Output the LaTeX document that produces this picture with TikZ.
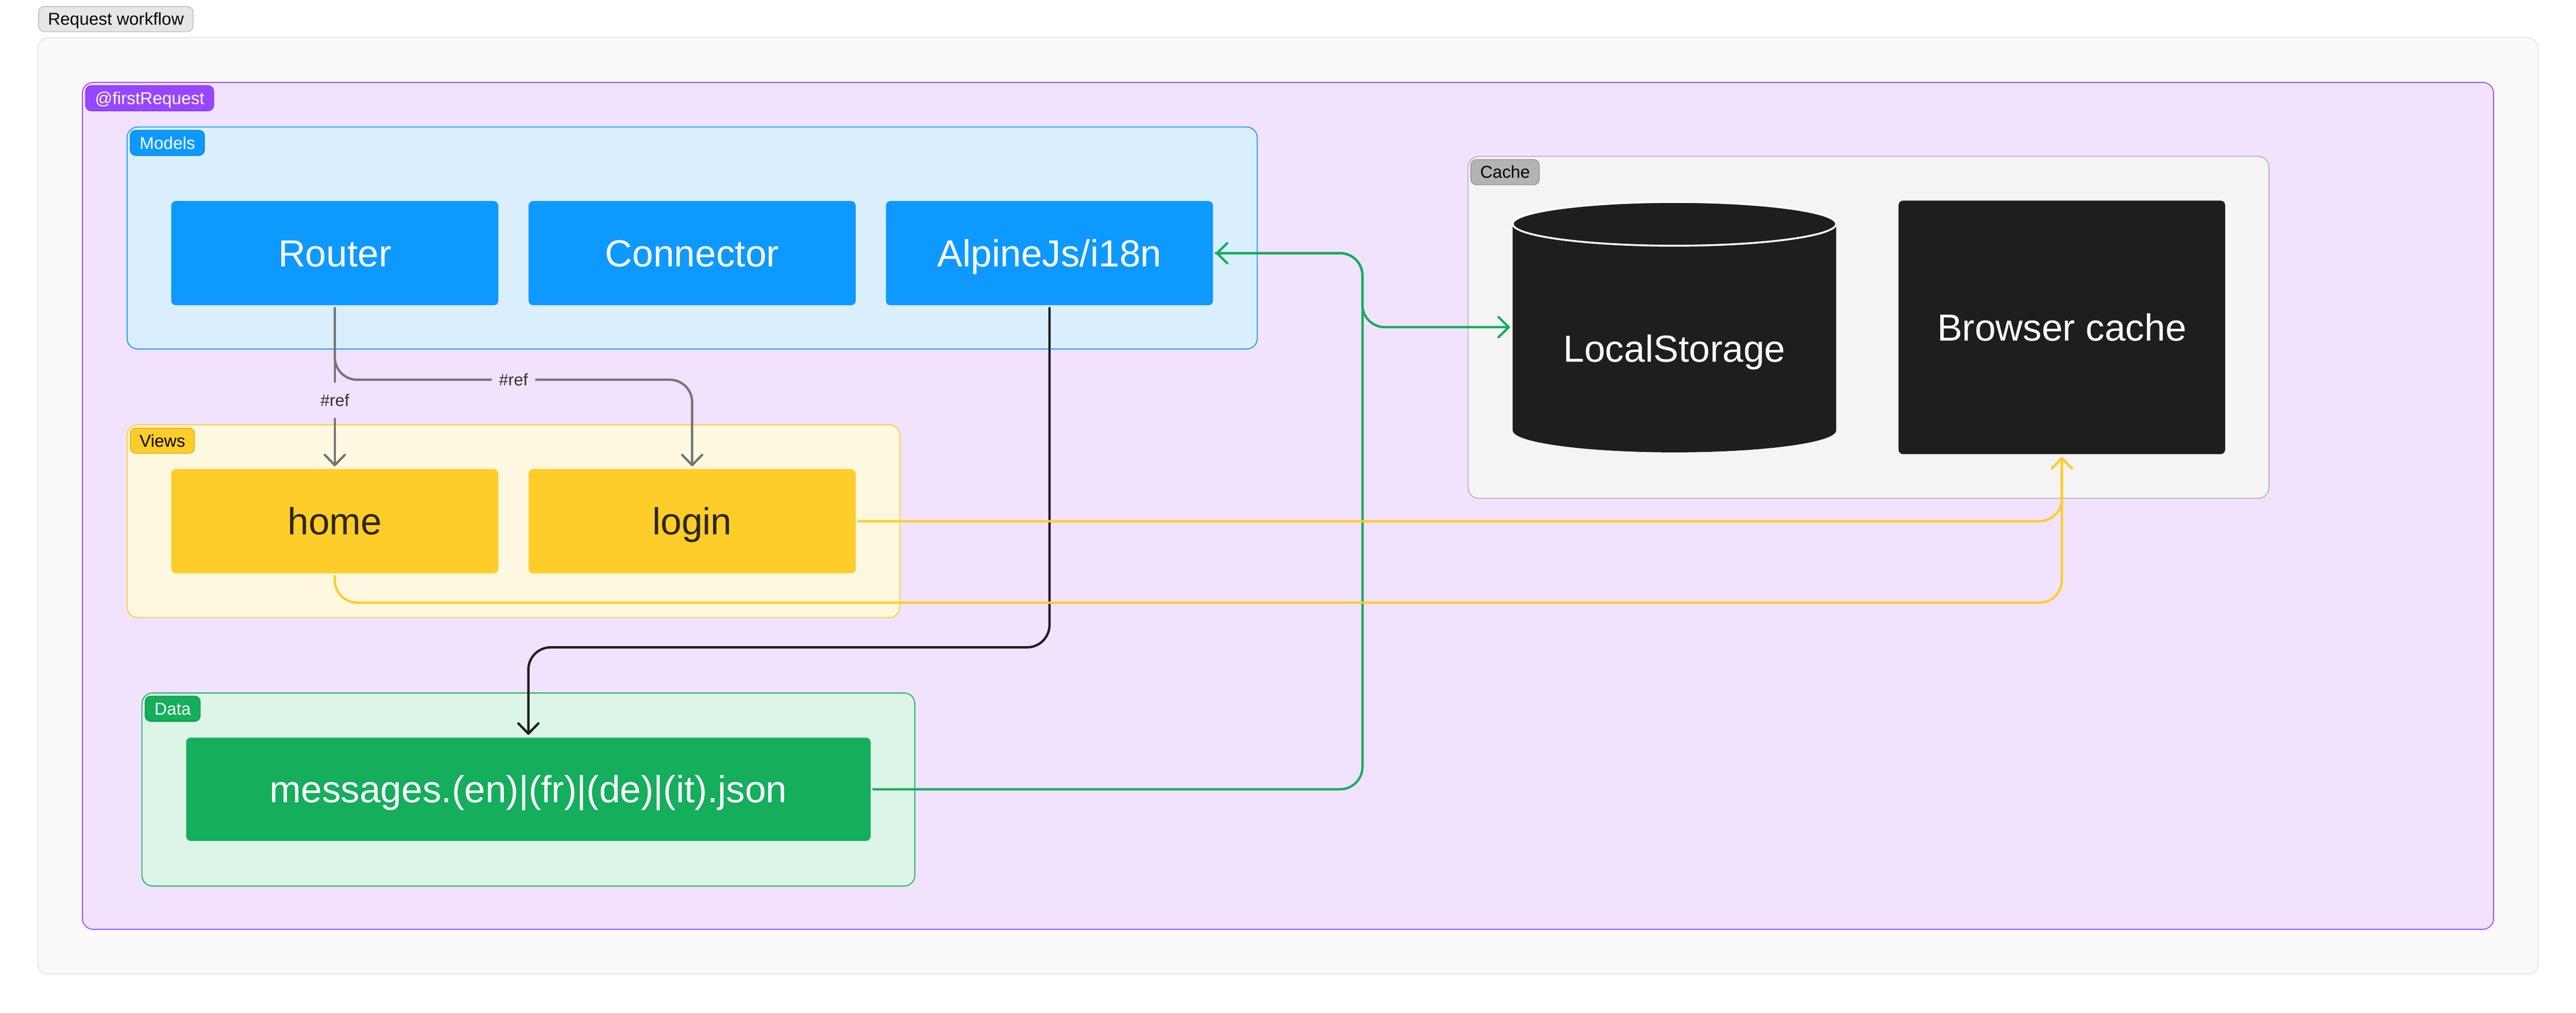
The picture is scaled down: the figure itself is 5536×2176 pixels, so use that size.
\documentclass[tikz,border=0pt]{standalone}
\usepackage{fontspec}
\setmainfont{Liberation Sans}
\usetikzlibrary{arrows.meta,positioning,shapes.geometric}
\definecolor{outerbg}{HTML}{FAFAFA}
\definecolor{outerline}{HTML}{E3E3E3}
\definecolor{titlebg}{HTML}{E6E6E6}
\definecolor{titleline}{HTML}{C4C4C4}
\definecolor{figpurple}{HTML}{9747FF}
\definecolor{purpleline}{HTML}{8A3CF0}
\definecolor{purplebg}{HTML}{F1E2FE}
\definecolor{figblue}{HTML}{0D99FF}
\definecolor{blueline}{HTML}{0B88E3}
\definecolor{bluebg}{HTML}{DAEFFD}
\definecolor{figyellow}{HTML}{FFCD29}
\definecolor{yellowline}{HTML}{E6B31A}
\definecolor{yellowbg}{HTML}{FFF8E0}
\definecolor{viewtext}{HTML}{2E2600}
\definecolor{figgreen}{HTML}{14AE5C}
\definecolor{greenline}{HTML}{10994F}
\definecolor{greenbg}{HTML}{DCF5E7}
\definecolor{cachebg}{HTML}{F4F4F4}
\definecolor{cacheline}{HTML}{B3B3B3}
\definecolor{cachetag}{HTML}{B3B3B3}
\definecolor{cachetagline}{HTML}{999999}
\definecolor{dark}{HTML}{1E1E1E}
\definecolor{refgray}{HTML}{757575}
\definecolor{labeltext}{HTML}{333333}
\tikzset{
    %Define standard arrow tip
    >={Straight Barb[length=2.2pt,width=4.3pt,round]},
    %Define style for group frames
    groupbox/.style={
           rectangle,
           rounded corners=2.3pt,
           line width=0.2pt,
           inner sep=0pt,
           outer sep=0pt},
    grouptag/.style={
           rectangle,
           rounded corners=1.2pt,
           line width=0.2pt,
           anchor=north west,
           inner xsep=2pt,
           inner ysep=0pt,
           minimum height=5.4pt,
           text height=2.6pt,
           text depth=0pt,
           font=\fontsize{3.7}{4.4}\selectfont},
    %Define style for boxes
    block/.style={
           rectangle,
           rounded corners=1pt,
           minimum width=70.3pt,
           minimum height=22.4pt,
           inner sep=0pt,
           outer sep=0pt,
           text height=5.8pt,
           text depth=0pt,
           font=\fontsize{8.1}{9.7}\selectfont,
           text centered},
    dbbody/.style={
           rectangle,
           fill=dark,
           minimum width=69.5pt,
           minimum height=44.4pt,
           inner sep=0pt,
           outer sep=0pt},
    dblid/.style={
           ellipse,
           fill=dark,
           minimum width=69.5pt,
           minimum height=9.4pt,
           inner sep=0pt,
           outer sep=0pt},
    % Define arrow style
    link/.style={
           ->,
           line width=0.5pt,
           line cap=round,
           rounded corners=4.8pt,
           shorten <=0.6pt,
           shorten >=0.6pt},
    reflabel/.style={
           fill=purplebg,
           text=labeltext,
           inner xsep=1.6pt,
           inner ysep=2.5pt,
           text height=2.6pt,
           text depth=0pt,
           font=\fontsize{3.6}{4.3}\selectfont}
}
\begin{document}
\begin{tikzpicture}[x=0.1pt,y=-0.1pt,node distance=6.5pt]
\useasboundingbox (0,0) rectangle (5536,2176);
 %frames
\node[groupbox, fill=outerbg, draw=outerline, minimum width=537.4pt, minimum height=201.2pt] (workflow) at (2768,1087) {};
\node[grouptag, fill=titlebg, draw=titleline] (workflowtag) at (82,13) {Request workflow};
\node[groupbox, fill=purplebg, draw=figpurple, minimum width=518.2pt, minimum height=182pt] (request) at (2768,1087) {};
\node[grouptag, fill=figpurple, draw=purpleline, text=white] (requesttag) at ([shift={(6,6)}]request.north west) {@firstRequest};
\node[groupbox, fill=bluebg, draw=figblue, minimum width=242.9pt, minimum height=47.7pt] (models) at (1487.5,511.5) {};
\node[grouptag, fill=figblue, draw=blueline, text=white] (modelstag) at ([shift={(6,6)}]models.north west) {Models};
\node[groupbox, fill=yellowbg, draw=figyellow, minimum width=166.1pt, minimum height=41.4pt] (views) at (1103.5,1120) {};
\node[grouptag, fill=figyellow, draw=yellowline] (viewstag) at ([shift={(6,6)}]views.north west) {Views};
\node[groupbox, fill=greenbg, draw=figgreen, minimum width=166.1pt, minimum height=41.5pt] (data) at (1135.5,1696.5) {};
\node[grouptag, fill=figgreen, draw=greenline, text=white] (datatag) at ([shift={(6,6)}]data.north west) {Data};
\node[groupbox, fill=cachebg, draw=cacheline, minimum width=172.1pt, minimum height=73.5pt] (cache) at (4015.5,703.5) {};
\node[grouptag, fill=cachetag, draw=cachetagline] (cachetag) at ([shift={(5,6)}]cache.north west) {Cache};

 %nodes
\node[block, fill=figblue, text=white] (router) at (719.5,544) {Router};
\node[block, fill=figblue, text=white, right=of router] (connector) {Connector};
\node[block, fill=figblue, text=white, right=of connector] (alpine) {AlpineJs/i18n};
\node[block, fill=figyellow, text=viewtext, below=35.2pt of router] (home) {home};
\node[block, fill=figyellow, text=viewtext, right=of home] (login) {login};
\node[block, fill=figgreen, text=white, minimum width=147.1pt, minimum height=22.2pt] (messages) at (1135.5,1696) {messages.(en)|(fr)|(de)|(it).json};
\node[block, fill=dark, text=white, minimum width=70.2pt, minimum height=54.5pt] (browser) at (4431,703.5) {Browser cache};
\node[dbbody] (store) at (3598.5,703) {};
\node[dblid] (storebottom) at (store.south) {};
\node[dblid, draw=white, line width=0.4pt] (storetop) at (store.north) {};
\node[block, text=white] (storetext) at ([yshift=-4.6pt]store.center) {LocalStorage};

 %edges
\coordinate (bus) at (2928,544);
\draw[link, draw=refgray] (router) -- node[reflabel, pos=0.58] {\#ref} (home);
\draw[link, draw=refgray] (router.south) -- ++(0,160) -| node[reflabel, pos=0.25] {\#ref} (login.north);
\draw[link, draw=dark] (alpine.south) -- ++(0,735) -| (messages.north);
\draw[link, draw=figgreen] (messages.east) -| (bus) -- (alpine.east);
\draw[link, draw=figgreen] (alpine.east) -- (bus) |- (store.west);
\draw[link, draw=figyellow] (login.east) -| (browser.south);
\draw[link, draw=figyellow] (home.south) -- ++(0,63) -| (browser.south);
\end{tikzpicture}
\end{document}
